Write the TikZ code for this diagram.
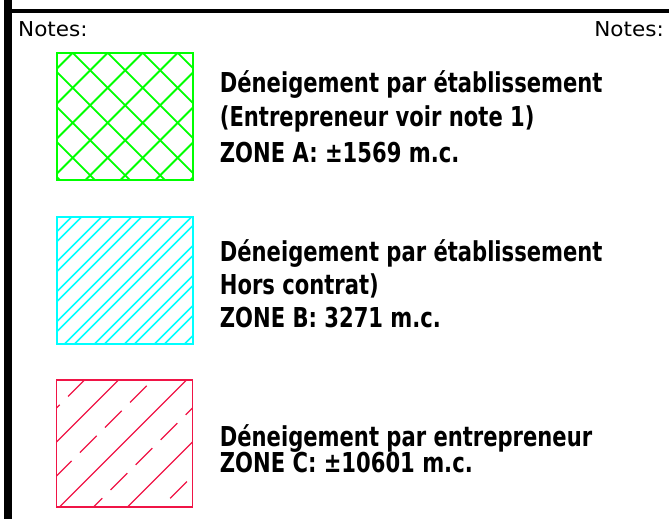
\documentclass[tikz,border=0pt]{standalone}
\usepackage{fontspec}
\newfontfamily\notesfont[FakeStretch=1.05]{DejaVu Sans}
\newfontfamily\zonefont[FakeStretch=0.77]{DejaVu Sans Bold}
\definecolor{hatchgreen}{RGB}{0,255,0}
\definecolor{hatchcyan}{RGB}{0,255,255}
\definecolor{hatchred}{RGB}{240,20,70}

\begin{document}
\begin{tikzpicture}[x=1pt,y=1pt]
\begin{scope}
\tikzstyle{word} = [font=\zonefont\fontsize{27.4}{32}\selectfont,anchor=base west,inner sep=0pt]
\tikzstyle{notes} = [font=\notesfont\fontsize{20.5}{24}\selectfont,inner sep=0pt]
\tikzstyle{zone} = [rectangle,minimum width=136pt,minimum height=127pt,inner sep=0pt,outer sep=0pt]

\useasboundingbox (0,0) rectangle (669,519);

%frame
\fill (4,0) rectangle (12,519);
\fill (12,506) rectangle (669,510);

\node [notes,anchor=base west] (notesl) at (18,482) {Notes:};
\node [notes,anchor=base east] (notesr) at (664,482) {Notes:};

%zone A
\node [zone,draw=hatchgreen,line width=2pt] (zonea) at (124.7,402.7) {};
\begin{scope}[shift={(zonea.north west)}]
\clip (0,0) rectangle (136,-127);
\foreach \k in {-4,...,7} {
  \draw [hatchgreen,line width=1.8pt] ({16+35*\k-10},10) -- ({16+35*\k+140},-140);
  \draw [hatchgreen,line width=1.8pt] ({16+35*\k+10},10) -- ({16+35*\k-140},-140);
}
\end{scope}
\node [word] (a1) at ([xshift=27pt,yshift=-40pt]zonea.north east) {Déneigement par établissement};
\node [word] (a2) at ([yshift=-34pt]a1.base west) {(Entrepreneur voir note 1)};
\node [word] (a3) at ([yshift=-36pt]a2.base west) {ZONE A: ±1569 m.c.};

%zone B
\node [zone,draw=hatchcyan,line width=1.8pt] (zoneb) at ([yshift=-164pt]zonea) {};
\begin{scope}[shift={(zoneb.north west)}]
\clip (0,0) rectangle (136,-127);
\foreach \k in {0,...,8} {
  \draw [hatchcyan,line width=1.6pt] ({15+30*\k+10},10) -- ({15+30*\k-140},-140);
  \draw [hatchcyan,line width=1.6pt] ({25+30*\k+10},10) -- ({25+30*\k-140},-140);
}
\end{scope}
\node [word] (b1) at ([xshift=27pt,yshift=-45pt]zoneb.north east) {Déneigement par établissement};
\node [word] (b2) at ([yshift=-33pt]b1.base west) {Hors contrat)};
\node [word] (b3) at ([yshift=-33pt]b2.base west) {ZONE B: 3271 m.c.};

%zone C
\node [zone,draw=hatchred,line width=1.5pt] (zonec) at ([yshift=-163pt]zoneb) {};
\begin{scope}[shift={(zonec.north west)}]
\clip (0,0) rectangle (136,-127);
\foreach \x in {62,130,198,266}
  \draw [hatchred,line width=1.3pt] ({\x+10},10) -- ({\x-140},-140);
\foreach \x/\ph in {28/0pt,96/26.9pt,164/9.5pt,232/33pt}
  \draw [hatchred,line width=1.3pt,dash pattern=on 23.6pt off 11.8pt,dash phase=\ph] (\x,0) -- ({\x-140},-140);
\end{scope}
\node [word] (c1) at ([xshift=27pt,yshift=-67pt]zonec.north east) {Déneigement par entrepreneur};
\node [word] (c2) at ([yshift=-26pt]c1.base west) {ZONE C: ±10601 m.c.};
\end{scope}
\end{tikzpicture}
\end{document}
